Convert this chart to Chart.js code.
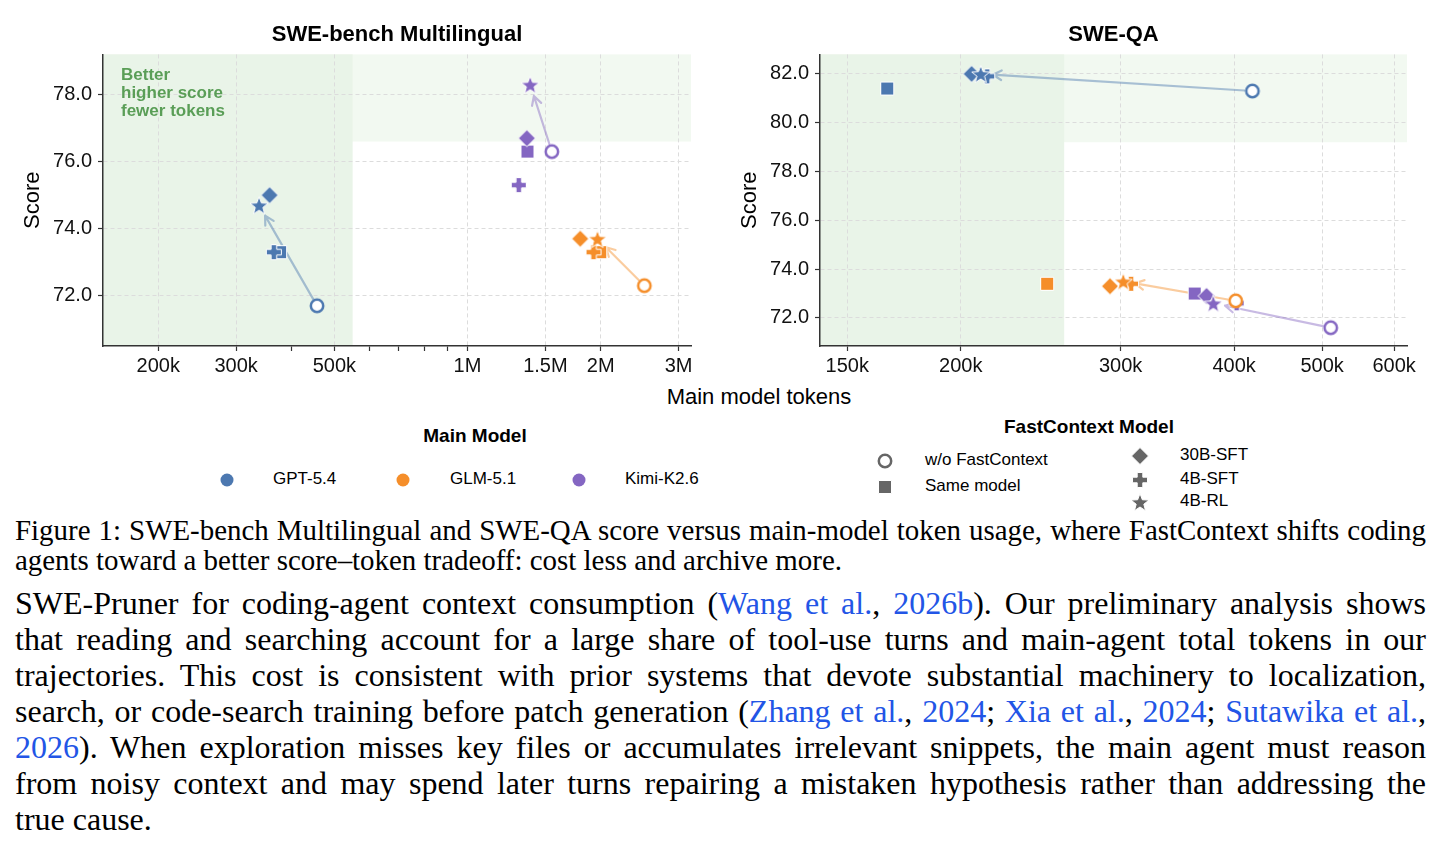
<!DOCTYPE html>
<html>
<head>
<meta charset="utf-8">
<script src="https://cdn.jsdelivr.net/npm/chart.js@4.4.1/dist/chart.umd.min.js"></script>
<style>
    body { margin: 0; width: 1446px; height: 853px; background: #fff; position: relative; overflow: hidden;
           font-family: "Liberation Sans", Arial, sans-serif; color: #000; }
    .abs { position: absolute; }
    #wrap1 { left: 0; top: 0; }
    #wrap2 { left: 713px; top: 0; }
    .xtitle { left: 559px; width: 400px; top: 384px; text-align: center; font-size: 22px; line-height: 26px; }
    .legtitle { width: 300px; text-align: center; font-weight: bold; font-size: 19px; line-height: 22px; }
    .legitem { font-size: 17px; line-height: 20px; white-space: nowrap; }
    .ser { left: 15px; width: 1411px; font-family: "Liberation Serif", "Times New Roman", serif; }
    .cap { line-height: 30px; }
    .body { line-height: 36px; }
    .just { text-align: justify; text-align-last: justify; }
    .ref { color: #2255e6; }
</style>
</head>
<body>
<div id="wrap1" class="abs"><canvas id="mlChart" width="710" height="377"></canvas></div>
<div id="wrap2" class="abs"><canvas id="qaChart" width="733" height="377"></canvas></div>
<div class="abs xtitle">Main model tokens</div>

<div class="abs legtitle" style="left:325px; top:425px;">Main Model</div>
<div class="abs legitem" style="left:273px; top:469px;">GPT-5.4</div>
<div class="abs legitem" style="left:450px; top:469px;">GLM-5.1</div>
<div class="abs legitem" style="left:625px; top:469px;">Kimi-K2.6</div>

<div class="abs legtitle" style="left:939px; top:416px;">FastContext Model</div>
<div class="abs legitem" style="left:925px; top:450px;">w/o FastContext</div>
<div class="abs legitem" style="left:925px; top:476px;">Same model</div>
<div class="abs legitem" style="left:1180px; top:445px;">30B-SFT</div>
<div class="abs legitem" style="left:1180px; top:469px;">4B-SFT</div>
<div class="abs legitem" style="left:1180px; top:491px;">4B-RL</div>

<div class="abs ser cap just" style="top:515px;">Figure 1: SWE-bench Multilingual and SWE-QA score versus main-model token usage, where FastContext shifts coding</div>
<div class="abs ser cap" style="top:545px;">agents toward a better score–token tradeoff: cost less and archive more.</div>

<div class="abs ser body just" style="top:585px;">SWE-Pruner for coding-agent context consumption (<span class="ref">Wang et al.</span>, <span class="ref">2026b</span>). Our preliminary analysis shows</div>
<div class="abs ser body just" style="top:621px;">that reading and searching account for a large share of tool-use turns and main-agent total tokens in our</div>
<div class="abs ser body just" style="top:657px;">trajectories. This cost is consistent with prior systems that devote substantial machinery to localization,</div>
<div class="abs ser body just" style="top:693px;">search, or code-search training before patch generation (<span class="ref">Zhang et al.</span>, <span class="ref">2024</span>; <span class="ref">Xia et al.</span>, <span class="ref">2024</span>; <span class="ref">Sutawika et al.</span>,</div>
<div class="abs ser body just" style="top:729px;"><span class="ref">2026</span>). When exploration misses key files or accumulates irrelevant snippets, the main agent must reason</div>
<div class="abs ser body just" style="top:765px;">from noisy context and may spend later turns repairing a mistaken hypothesis rather than addressing the</div>
<div class="abs ser body" style="top:801px;">true cause.</div>

<script>
// 모델 / FastContext 변형
const models = ['GPT-5.4', 'GLM-5.1', 'Kimi-K2.6'];
const modelColors = ['#4c78b0', '#f58e2a', '#8466c2'];
const variants = ['w/o FastContext', 'Same model', '30B-SFT', '4B-SFT', '4B-RL'];
const variantShapes = ['circle', 'square', 'diamond', 'plus', 'star'];

// SWE-bench Multilingual (순서: variants)
const mlGptTokens = [457000, 377000, 357000, 365000, 338000];
const mlGptScores = [71.7, 73.3, 75.0, 73.3, 74.7];
const mlGlmTokens = [2510000, 1995000, 1798000, 1927000, 1967000];
const mlGlmScores = [72.3, 73.3, 73.7, 73.3, 73.7];
const mlKimiTokens = [1551000, 1366000, 1362000, 1306000, 1386000];
const mlKimiScores = [76.3, 76.3, 76.7, 75.3, 78.3];

// SWE-QA
const qaGptTokens = [419000, 166000, 205600, 213900, 210400];
const qaGptScores = [81.3, 81.4, 82.0, 81.9, 82.0];
const qaGlmTokens = [401600, 249000, 292000, 308000, 302000];
const qaGlmScores = [72.7, 73.4, 73.3, 73.4, 73.5];
const qaKimiTokens = [511000, 362000, 373000, 402600, 379400];
const qaKimiScores = [71.6, 73.0, 72.9, 72.6, 72.6];

// 축 눈금
const mlTickValues = [200000, 300000, 500000, 1000000, 1500000, 2000000, 3000000];
const mlTickLabels = ['200k', '300k', '500k', '1M', '1.5M', '2M', '3M'];
const mlMinorTicks = [400000, 600000, 700000, 800000, 900000];
const mlScoreTicks = [72, 74, 76, 78];
const qaTickValues = [150000, 200000, 300000, 400000, 500000, 600000];
const qaTickLabels = ['150k', '200k', '300k', '400k', '500k', '600k'];
const qaScoreTicks = [72, 74, 76, 78, 80, 82];

// "Better" 영역 경계
const mlBetterTokens = 550000;
const mlBetterScore = 76.6;
const qaBetterTokens = 260000;
const qaBetterScore = 79.2;
const betterNote = ['Better', 'higher score', 'fewer tokens'];

const gridColor = '#dcdcdc';
const axisColor = '#333';

// 마커 이미지 (pointStyle 용)
function makeMarker(shape, color) {
    const size = 24;
    const c = document.createElement('canvas');
    c.width = size;
    c.height = size;
    const g = c.getContext('2d');
    const m = size / 2;
    g.fillStyle = color;
    g.strokeStyle = '#fff';
    g.lineWidth = 1;
    g.beginPath();
    if (shape === 'circle') {
        g.arc(m, m, 6.2, 0, Math.PI * 2);
        g.fillStyle = '#fff';
        g.fill();
        g.strokeStyle = color;
        g.lineWidth = 2.5;
        g.stroke();
        return c;
    }
    if (shape === 'dot') {
        g.arc(m, m, 6.5, 0, Math.PI * 2);
        g.fill();
        return c;
    }
    if (shape === 'square') {
        g.rect(m - 6.5, m - 6.5, 13, 13);
    } else if (shape === 'diamond') {
        g.moveTo(m, m - 8.5);
        g.lineTo(m + 8.5, m);
        g.lineTo(m, m + 8.5);
        g.lineTo(m - 8.5, m);
        g.closePath();
    } else if (shape === 'plus') {
        const a = 7.5, t = 2.8;
        g.moveTo(m - t, m - a); g.lineTo(m + t, m - a); g.lineTo(m + t, m - t);
        g.lineTo(m + a, m - t); g.lineTo(m + a, m + t); g.lineTo(m + t, m + t);
        g.lineTo(m + t, m + a); g.lineTo(m - t, m + a); g.lineTo(m - t, m + t);
        g.lineTo(m - a, m + t); g.lineTo(m - a, m - t); g.lineTo(m - t, m - t);
        g.closePath();
    } else if (shape === 'star') {
        for (let i = 0; i < 10; i++) {
            const r = i % 2 === 0 ? 9.5 : 4;
            const ang = -Math.PI / 2 + i * Math.PI / 5;
            const px = m + r * Math.cos(ang);
            const py = m + 1 + r * Math.sin(ang);
            if (i === 0) g.moveTo(px, py); else g.lineTo(px, py);
        }
        g.closePath();
    }
    g.fill();
    g.stroke();
    return c;
}

const markers = modelColors.map(col => variantShapes.map(s => makeMarker(s, col)));

// 배경 영역 + 주석 텍스트
const betterPlugin = {
    id: 'better',
    beforeDraw(chart, args, opts) {
        const { ctx, chartArea: a, scales: { x, y } } = chart;
        const xr = x.getPixelForValue(opts.tokens);
        const yb = y.getPixelForValue(opts.score);
        ctx.save();
        ctx.fillStyle = '#f2f9f1';
        ctx.fillRect(a.left, a.top, a.right - a.left, yb - a.top);
        ctx.fillStyle = '#e9f4e8';
        ctx.fillRect(a.left, a.top, xr - a.left, a.bottom - a.top);
        ctx.restore();
    },
    beforeDatasetsDraw(chart, args, opts) {
        if (!opts.note) return;
        const { ctx, chartArea: a } = chart;
        ctx.save();
        ctx.fillStyle = '#5a9e57';
        ctx.font = 'bold 17px "Liberation Sans", Arial, sans-serif';
        ctx.textBaseline = 'middle';
        opts.note.forEach((line, i) => ctx.fillText(line, a.left + 18, a.top + 21 + i * 18));
        ctx.restore();
    }
};

// w/o FastContext -> 4B-RL 화살표
const arrowPlugin = {
    id: 'arrows',
    beforeDatasetsDraw(chart) {
        const ctx = chart.ctx;
        chart.data.datasets.forEach((ds, i) => {
            const pts = chart.getDatasetMeta(i).data;
            const from = pts[0], to = pts[variants.indexOf('4B-RL')];
            const dx = to.x - from.x, dy = to.y - from.y;
            const len = Math.hypot(dx, dy);
            const ux = dx / len, uy = dy / len;
            const sx = from.x + ux * 8, sy = from.y + uy * 8;
            const ex = to.x - ux * 12, ey = to.y - uy * 12;
            const ang = Math.atan2(uy, ux);
            ctx.save();
            ctx.globalAlpha = 0.45;
            ctx.strokeStyle = modelColors[i];
            ctx.lineWidth = 2.2;
            ctx.lineCap = 'round';
            ctx.beginPath();
            ctx.moveTo(sx, sy);
            ctx.lineTo(ex, ey);
            [0.5, -0.5].forEach(d => {
                ctx.moveTo(ex, ey);
                ctx.lineTo(ex - 10 * Math.cos(ang + d), ey - 10 * Math.sin(ang + d));
            });
            ctx.stroke();
            ctx.restore();
        });
    }
};

function createScoreChart(canvasId, cfg) {
    const ctx = document.getElementById(canvasId);
    const datasets = models.map((name, m) => ({
        label: name,
        data: cfg.tokens[m].map((t, i) => ({ x: t, y: cfg.scores[m][i] })),
        pointStyle: markers[m],
        pointRadius: 7,
        showLine: false
    }));
    const minor = cfg.minor || [];

    return new Chart(ctx, {
        type: 'scatter',
        data: { datasets: datasets },
        plugins: [betterPlugin, arrowPlugin],
        options: {
            responsive: false,
            animation: false,
            events: [],
            layout: { padding: { left: 0, right: cfg.padRight, top: 0, bottom: 0 } },
            plugins: {
                legend: { display: false },
                tooltip: { enabled: false },
                title: {
                    display: true,
                    text: cfg.title,
                    fullSize: false,
                    color: '#000',
                    font: { size: 22, weight: 'bold', family: '"Liberation Sans", Arial, sans-serif', lineHeight: 1.2 },
                    padding: { top: 22, bottom: 6 }
                },
                better: { tokens: cfg.betterTokens, score: cfg.betterScore, note: cfg.note }
            },
            scales: {
                x: {
                    type: 'logarithmic',
                    min: cfg.xMin,
                    max: cfg.xMax,
                    afterBuildTicks: scale => {
                        scale.ticks = cfg.xTicks.concat(minor).sort((a, b) => a - b).map(v => ({ value: v }));
                    },
                    afterFit: scale => { scale.height = 31; },
                    ticks: {
                        autoSkip: false,
                        maxRotation: 0,
                        padding: 3,
                        color: '#111',
                        font: { size: 20, family: '"Liberation Sans", Arial, sans-serif' },
                        callback: value => {
                            const i = cfg.xTicks.indexOf(value);
                            return i >= 0 ? cfg.xLabels[i] : '';
                        }
                    },
                    grid: {
                        color: c => (c.tick && minor.includes(c.tick.value)) ? 'rgba(0,0,0,0)' : gridColor,
                        lineWidth: 1,
                        tickColor: axisColor,
                        tickLength: 5,
                        tickWidth: 1.2
                    },
                    border: { color: axisColor, width: 1.5, dash: [4, 3] }
                },
                y: {
                    min: cfg.yMin,
                    max: cfg.yMax,
                    afterBuildTicks: scale => {
                        scale.ticks = cfg.yTicks.map(v => ({ value: v }));
                    },
                    afterFit: scale => { scale.width = cfg.yWidth; },
                    title: {
                        display: true,
                        text: 'Score',
                        color: '#000',
                        font: { size: 22, family: '"Liberation Sans", Arial, sans-serif', lineHeight: 1.2 },
                        padding: { top: cfg.yTitlePad, bottom: 0 }
                    },
                    ticks: {
                        padding: 6,
                        color: '#111',
                        font: { size: 20, family: '"Liberation Sans", Arial, sans-serif' },
                        callback: v => Number(v).toFixed(1)
                    },
                    grid: {
                        color: gridColor,
                        lineWidth: 1,
                        tickColor: axisColor,
                        tickLength: 5,
                        tickWidth: 1.2
                    },
                    border: { color: axisColor, width: 1.5, dash: [4, 3] }
                }
            }
        }
    });
}

createScoreChart('mlChart', {
    title: 'SWE-bench Multilingual',
    tokens: [mlGptTokens, mlGlmTokens, mlKimiTokens],
    scores: [mlGptScores, mlGlmScores, mlKimiScores],
    xMin: 150000, xMax: 3200000,
    yMin: 70.5, yMax: 79.2,
    xTicks: mlTickValues, xLabels: mlTickLabels, minor: mlMinorTicks,
    yTicks: mlScoreTicks,
    betterTokens: mlBetterTokens, betterScore: mlBetterScore, note: betterNote,
    padRight: 19, yWidth: 103, yTitlePad: 20
});

createScoreChart('qaChart', {
    title: 'SWE-QA',
    tokens: [qaGptTokens, qaGlmTokens, qaKimiTokens],
    scores: [qaGptScores, qaGlmScores, qaKimiScores],
    xMin: 140000, xMax: 620000,
    yMin: 70.85, yMax: 82.8,
    xTicks: qaTickValues, xLabels: qaTickLabels,
    yTicks: qaScoreTicks,
    betterTokens: qaBetterTokens, betterScore: qaBetterScore, note: null,
    padRight: 39, yWidth: 107, yTitlePad: 24
});

// 범례 마커
function placeMarker(canvas, cx, cy) {
    canvas.style.position = 'absolute';
    canvas.style.left = (cx - canvas.width / 2) + 'px';
    canvas.style.top = (cy - canvas.height / 2) + 'px';
    document.body.appendChild(canvas);
}
[227, 403, 579].forEach((cx, i) => placeMarker(makeMarker('dot', modelColors[i]), cx, 480));
const legendGray = '#666';
placeMarker(makeMarker('circle', legendGray), 885, 461);
placeMarker(makeMarker('square', legendGray), 885, 487);
placeMarker(makeMarker('diamond', legendGray), 1140, 456);
placeMarker(makeMarker('plus', legendGray), 1140, 480);
placeMarker(makeMarker('star', legendGray), 1140, 502);

// 본문 글자 크기: 가장 긴 줄이 폭에 맞도록
function fitLines(selector, maxSize) {
    const lines = Array.from(document.querySelectorAll(selector));
    const probe = document.createElement('span');
    probe.style.cssText = 'position:absolute;visibility:hidden;white-space:nowrap;font-family:"Liberation Serif","Times New Roman",serif;font-size:' + maxSize + 'px';
    document.body.appendChild(probe);
    let widest = 0;
    lines.forEach(l => { probe.innerHTML = l.innerHTML; widest = Math.max(widest, probe.getBoundingClientRect().width); });
    probe.remove();
    const size = Math.min(maxSize, maxSize * 1400 / widest);
    lines.forEach(l => { l.style.fontSize = size + 'px'; });
}
fitLines('.cap', 29);
fitLines('.body', 32);
</script>
</body>
</html>
